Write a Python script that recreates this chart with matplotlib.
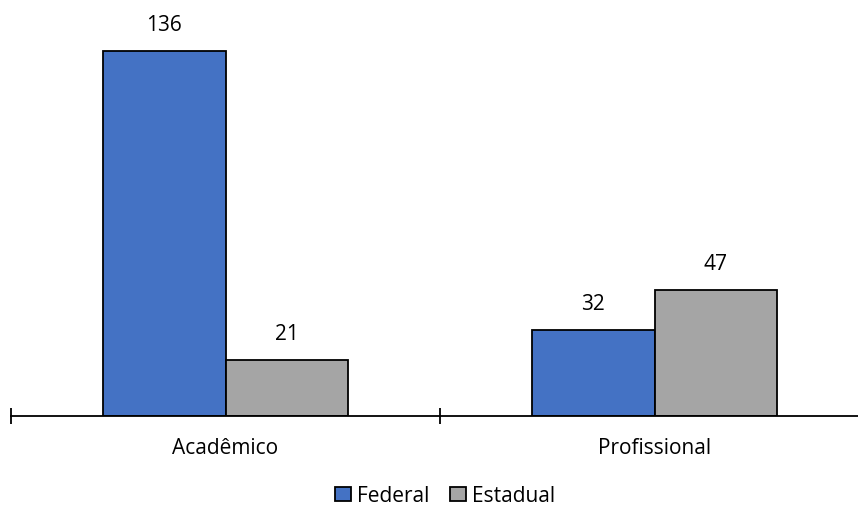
import numpy as np
import matplotlib.pyplot as plt

plt.rcParams['font.family'] = ['Open Sans', 'DejaVu Sans']

categorias = ['Acadêmico', 'Profissional']
federal = [136, 32]
estadual = [21, 47]

fig = plt.figure(figsize=(8.58, 5.09), dpi=100)
# eixo um pouco mais largo que a figura, como no gráfico original
ax = fig.add_axes([11 / 858, 93 / 509, 858 / 858, 402.6 / 509])

x = np.arange(len(categorias))
w = 0.285
b1 = ax.bar(x - w / 2, federal, w, color='#4472C4', edgecolor='black', linewidth=1.3, label='Federal')
b2 = ax.bar(x + w / 2, estadual, w, color='#A5A5A5', edgecolor='black', linewidth=1.3, label='Estadual')

# rótulos de valor acima das barras
for barras, vals in ((b1, federal), (b2, estadual)):
    for b, v in zip(barras, vals):
        ax.annotate(str(v), (b.get_x() + b.get_width() / 2, v), xytext=(0, 14.4),
                    textcoords='offset points', ha='center', va='baseline', fontsize=15)

ax.set_xlim(-0.5, 1.5)
ax.set_ylim(0, 150)
for s in ['top', 'right', 'left']:
    ax.spines[s].set_visible(False)
ax.spines['bottom'].set_linewidth(1.3)
ax.set_yticks([])

ax.set_xticks([-0.5, 0.5, 1.5])
ax.set_xticklabels([])
ax.tick_params(axis='x', which='major', direction='inout', length=11, width=1.3)

# nomes das categorias abaixo do eixo
for xi, nome in zip(x, categorias):
    ax.text(xi, -38 / 402.6, nome, transform=ax.get_xaxis_transform(),
            ha='center', va='baseline', fontsize=15)

fig.legend(loc='lower center', bbox_to_anchor=(0.519, -0.018), ncol=2, frameon=False,
           fontsize=15, borderpad=0.05, handlelength=0.75, handleheight=0.65,
           handletextpad=0.3, columnspacing=1.0)

fig.savefig('out.png', dpi=100)
